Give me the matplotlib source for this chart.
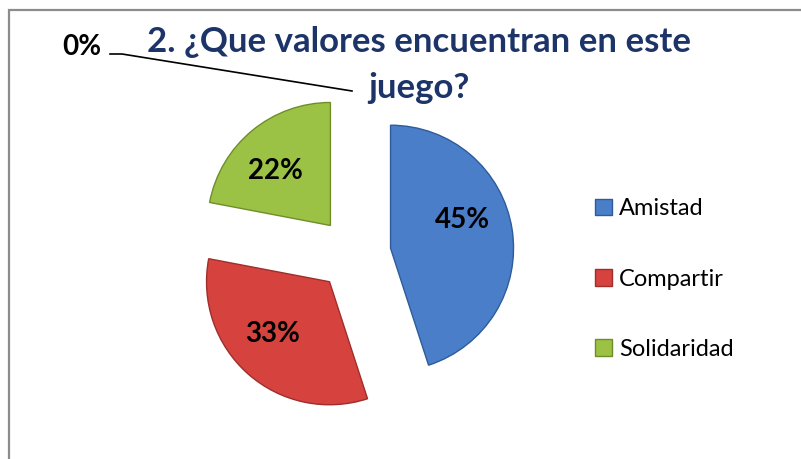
import matplotlib
matplotlib.use("Agg")
import matplotlib.pyplot as plt
from matplotlib.patches import Patch, Rectangle
import numpy as np

categories = ["Amistad", "Compartir", "Solidaridad", ""]
values = [45, 33, 22, 0]
colors = ["#4A7EC8", "#D6433F", "#9CC245", "#FFFFFF"]
edges = ["#2E5C9A", "#9E2E2B", "#6E8E2A", "#FFFFFF"]
title = "2. ¿Que valores encuentran en este\njuego?"

plt.rcParams['font.family'] = ['Lato', 'DejaVu Sans']

W, H = 801, 459
fig = plt.figure(figsize=(W / 100, H / 100), dpi=100)
ax = fig.add_axes([0, 0, 1, 1])

# chart border
fig.patches.append(Rectangle((9 / W, -0.1), 1.2, 1 - 10 / H + 0.1, transform=fig.transFigure,
                             fill=False, edgecolor="#8C8C8C", linewidth=1.6))

center = (354, H - 254)
radius = 123
expl = 37

wedges, texts, autotexts = ax.pie(
    values, colors=colors, startangle=90, counterclock=False,
    radius=radius, center=center, explode=[expl] * len(values),
    autopct=lambda p: f"{p:.0f}%" if p > 0.5 else "",
    pctdistance=0.63, frame=True,
    wedgeprops=dict(linewidth=1.0),
    textprops=dict(fontsize=20, fontweight='bold', color='black'))
ax.set_xlim(0, W)
ax.set_ylim(0, H)
ax.axis('off')
for w, ec in zip(wedges, edges):
    w.set_edgecolor(ec)

# nudge label positions around each slice's apex as in the reference
nudges = [12, -6, 6, 0]
for t, w, nd in zip(autotexts, wedges, nudges):
    cx, cy = w.center
    x, y = t.get_position()
    dx, dy = x - cx, y - cy
    a = np.deg2rad(nd)
    t.set_position((cx + dx * np.cos(a) - dy * np.sin(a), cy + dx * np.sin(a) + dy * np.cos(a)))

# zero slice label with leader line
zw = wedges[3]
tip = (zw.center[0] + radius * np.cos(np.deg2rad(zw.theta1)), zw.center[1] + radius * np.sin(np.deg2rad(zw.theta1)))
lx, ly = 82, H - 47
ax.text(lx, ly, f"{values[3]}%", fontsize=20, fontweight='bold', ha='center', va='center')
ax.plot([lx + 28, lx + 40, tip[0] - 2], [ly - 7, ly - 7, tip[1] + 3], color='black', lw=1.2)

fig.text(419 / W, 1 - 65 / H, title, ha='center', va='center', fontsize=25,
         fontweight='bold', color='#1C3468', linespacing=1.55)

handles = [Patch(facecolor=c, edgecolor=e, label=l) for c, e, l in zip(colors[:3], edges[:3], categories[:3])]
fig.legend(handles=handles, loc='center left', bbox_to_anchor=(574 / W, 1 - 279 / H),
           frameon=False, fontsize=17, labelspacing=2.08, handlelength=0.7, handleheight=0.7,
           handletextpad=0.3)

fig.savefig("out.png", dpi=100)
